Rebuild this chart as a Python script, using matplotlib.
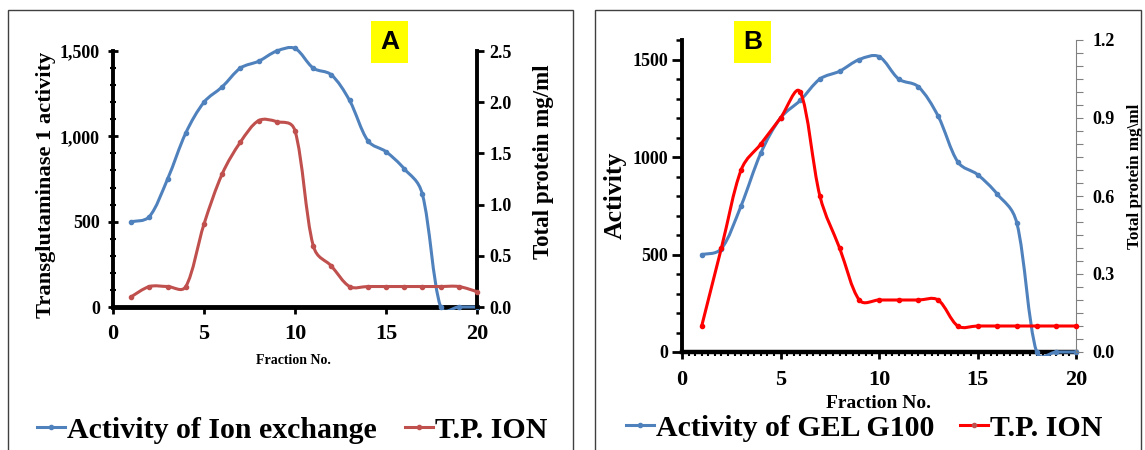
import numpy as np
import matplotlib
matplotlib.use('Agg')
import matplotlib.pyplot as plt
import matplotlib.ticker as ticker
from matplotlib.path import Path
from matplotlib.patches import PathPatch, Rectangle
from matplotlib.lines import Line2D
from matplotlib.transforms import Bbox, TransformedBbox

fractions = list(range(1, 21))
activity = [500, 530, 750, 1020, 1200, 1290, 1400, 1440, 1500, 1515,
            1400, 1360, 1210, 975, 910, 810, 660, 0, 0, 0]
tp_ion_a = [0.10, 0.20, 0.20, 0.20, 0.81, 1.30, 1.61, 1.82, 1.81, 1.72,
            0.60, 0.40, 0.20, 0.20, 0.20, 0.20, 0.20, 0.20, 0.20, 0.15]
tp_ion_b = [0.10, 0.40, 0.70, 0.80, 0.90, 1.00, 0.60, 0.40, 0.20, 0.20,
            0.20, 0.20, 0.20, 0.10, 0.10, 0.10, 0.10, 0.10, 0.10, 0.10]

labels_a = ['Activity of Ion exchange', 'T.P. ION']
labels_b = ['Activity of GEL G100', 'T.P. ION']

BLUE = '#4F81BD'
RED_A = '#C0504D'
RED_B = '#FF0000'
SERIF = 'Liberation Serif'
W, H = 1145, 450


def smooth_path(ax, x, y):
    # excel-like smoothed line: bezier through every point,
    # tangents damped by the neighbouring segment lengths on screen
    n = len(x)
    p = ax.transData.transform(np.column_stack([x, y]))
    d = np.hypot(*np.diff(p, axis=0).T)
    verts = [p[0]]
    codes = [Path.MOVETO]
    for i in range(n - 1):
        a, b = max(i - 1, 0), min(i + 2, n - 1)
        dprev = d[i - 1] if i > 0 else d[i]
        dnext = d[i + 1] if i + 1 < n - 1 else d[i]
        f1 = np.sqrt(2 * d[i] / (dprev + d[i])) / 6
        f2 = np.sqrt(2 * d[i] / (d[i] + dnext)) / 6
        c1 = p[i] + (p[i + 1] - p[a]) * f1
        c2 = p[i + 1] - (p[b] - p[i]) * f2
        verts += [c1, c2, p[i + 1]]
        codes += [Path.CURVE4] * 3
    verts = ax.transData.inverted().transform(np.array(verts))
    return Path(verts, codes)


def draw_series(ax, x, y, color):
    patch = PathPatch(smooth_path(ax, x, y), fill=False, ec=color, lw=2.2,
                      capstyle='round', joinstyle='round', zorder=3)
    ax.add_patch(patch)
    pts, = ax.plot(x, y, 'o', color=color, ms=3, zorder=3.1)
    clip = TransformedBbox(Bbox([[0, -0.012], [1, 1.04]]), ax.transAxes)
    patch.set_clip_box(clip)
    pts.set_clip_on(False)


def px_axes(l, r, t, b):
    return [l / W, (H - b) / H, (r - l) / W, (b - t) / H]


def bold_ticks(axes):
    for a in axes:
        for lab in a.get_xticklabels() + a.get_yticklabels():
            lab.set_fontfamily(SERIF)
            lab.set_fontweight('bold')


fig = plt.figure(figsize=(W / 100, H / 100), dpi=100)

# panel frames
for x0, x1 in [(8, 573), (595, 1141)]:
    fig.patches.append(Rectangle((x0 / W, -0.01), (x1 - x0) / W, (H - 10) / H + 0.01,
                                 transform=fig.transFigure, fill=False,
                                 ec='#404040', lw=1.0))

bold = dict(family=SERIF, weight='bold')

# ---------------- panel A ----------------
ax = fig.add_axes(px_axes(113, 477, 51, 307))
ax2 = ax.twinx()
ax.set_xlim(0, 20)
ax.set_ylim(0, 1500)
ax2.set_ylim(0, 2.5)
draw_series(ax, fractions, activity, BLUE)
draw_series(ax2, fractions, tp_ion_a, RED_A)
ax.xaxis.set_major_locator(ticker.MultipleLocator(5))
ax.yaxis.set_major_locator(ticker.MultipleLocator(500))
ax.yaxis.set_minor_locator(ticker.MultipleLocator(100))
ax.yaxis.set_major_formatter(ticker.FuncFormatter(lambda v, p: '{:,.0f}'.format(v)))
ax2.yaxis.set_major_locator(ticker.MultipleLocator(0.5))
ax2.yaxis.set_major_formatter(ticker.FormatStrFormatter('%.1f'))
# each spine drawn once so the blue line can sit on top of it
for s in ('top', 'right'):
    ax.spines[s].set_visible(False)
for s in ('top', 'left', 'bottom'):
    ax2.spines[s].set_visible(False)
ax.spines['left'].set_linewidth(2.8)
ax.spines['bottom'].set_linewidth(3.5)
ax2.spines['right'].set_linewidth(2.8)
ax.tick_params(axis='y', which='major', direction='inout', length=7, width=2, labelsize=13, pad=6)
ax.tick_params(axis='y', which='minor', direction='inout', length=5, width=1.5)
ax.tick_params(axis='x', which='major', direction='out', length=5, width=2, labelsize=16, pad=7)
ax2.tick_params(axis='y', which='major', direction='out', length=5, width=2, labelsize=13, pad=4)
bold_ticks([ax, ax2])
ax.set_ylabel('Transglutaminase 1 activity', fontsize=16.2, **bold)
ax.yaxis.set_label_coords(-0.156, 0.477)
ax2.set_ylabel('Total protein mg/ml', fontsize=16.5, **bold)
ax2.yaxis.set_label_coords(1.154, 0.568)
fig.text(293 / W, 1 - 360 / H, 'Fraction No.', ha='center', va='center',
         fontsize=10, **bold)
fig.text(389.5 / W, 1 - 42 / H, 'A', ha='center', va='center', fontsize=19,
         family='Liberation Sans', weight='bold',
         bbox=dict(boxstyle='square,pad=0.35', fc='#FFFF00', ec='none'))
handles = [Line2D([], [], color=BLUE, lw=2.2, marker='o', ms=3),
           Line2D([], [], color=RED_A, lw=2.2, marker='o', ms=3)]
fig.legend(handles, labels_a, loc='center', bbox_to_anchor=(292 / W, 1 - 430 / H),
           ncol=2, frameon=False, handlelength=0.95, handletextpad=0.05,
           columnspacing=0.95, prop=dict(family=SERIF, weight='bold', size=21.5))

# ---------------- panel B ----------------
bx = fig.add_axes(px_axes(682, 1076, 40, 352))
bx2 = bx.twinx()
bx.set_xlim(0, 20)
bx.set_ylim(0, 1600)
bx2.set_ylim(0, 1.2)
draw_series(bx, fractions, activity, BLUE)
draw_series(bx2, fractions, tp_ion_b, RED_B)
bx.xaxis.set_major_locator(ticker.MultipleLocator(5))
bx.xaxis.set_minor_locator(ticker.MultipleLocator(1 / 3))
bx.yaxis.set_major_locator(ticker.MultipleLocator(500))
bx.yaxis.set_minor_locator(ticker.MultipleLocator(100))
bx2.yaxis.set_major_locator(ticker.MultipleLocator(0.3))
bx2.yaxis.set_minor_locator(ticker.MultipleLocator(0.05))
bx2.yaxis.set_major_formatter(ticker.FormatStrFormatter('%.1f'))
for s in ('top', 'right'):
    bx.spines[s].set_visible(False)
for s in ('top', 'left', 'bottom'):
    bx2.spines[s].set_visible(False)
bx.spines['left'].set_linewidth(2.8)
bx.spines['bottom'].set_linewidth(3.2)
bx2.spines['right'].set_linewidth(0.8)
bx2.spines['right'].set_color('#808080')
bx.tick_params(axis='y', which='major', direction='out', length=7, width=2, labelsize=13, pad=3)
bx.tick_params(axis='y', which='minor', direction='out', length=4, width=1.8)
bx.tick_params(axis='x', which='major', direction='out', length=5, width=2, labelsize=16, pad=8)
bx.tick_params(axis='x', which='minor', direction='out', length=3, width=1.5)
bx2.tick_params(axis='y', which='both', direction='out', length=5, width=0.8,
                color='#808080', labelsize=13, pad=7)
bold_ticks([bx, bx2])
bx.set_ylabel('Activity', fontsize=18.5, **bold)
bx.yaxis.set_label_coords(-0.14, 0.503)
bx2.set_ylabel('Total protein mg\\ml', fontsize=12.3, **bold)
bx2.yaxis.set_label_coords(1.129, 0.5625)
fig.text(878 / W, 1 - 403 / H, 'Fraction No.', ha='center', va='center',
         fontsize=14, **bold)
fig.text(752.5 / W, 1 - 42 / H, 'B', ha='center', va='center', fontsize=19,
         family='Liberation Sans', weight='bold',
         bbox=dict(boxstyle='square,pad=0.35', fc='#FFFF00', ec='none'))
handles = [Line2D([], [], color=BLUE, lw=2.2, marker='o', ms=3),
           Line2D([], [], color=RED_B, lw=2.2, marker='o', ms=3, mfc=RED_A, mec=RED_A)]
fig.legend(handles, labels_b, loc='center', bbox_to_anchor=(864 / W, 1 - 428 / H),
           ncol=2, frameon=False, handlelength=0.95, handletextpad=0.05,
           columnspacing=0.85, prop=dict(family=SERIF, weight='bold', size=21.5))

fig.savefig('out.png', dpi=100)
